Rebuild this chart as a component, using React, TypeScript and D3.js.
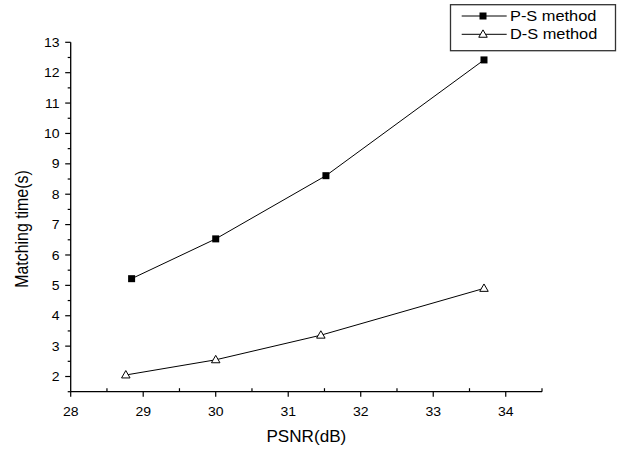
import React from "react";
import * as d3 from "d3";

const psnrPS = [28.84, 30, 31.52, 33.7];
const timePS = [5.22, 6.53, 8.61, 12.42];
const psnrDS = [28.76, 30, 31.45, 33.7];
const timeDS = [2.05, 2.55, 3.36, 4.9];
const xTicks = [28, 29, 30, 31, 32, 33, 34];
const yTicks = [2, 3, 4, 5, 6, 7, 8, 9, 10, 11, 12, 13];
const seriesNames = ["P-S method", "D-S method"];

const W = 621;
const H = 451;
const FONT = "'Liberation Sans', Arial, sans-serif";

export default function App() {
  const x = d3.scaleLinear().domain([28, 34.5]).range([70.7, 542]);
  const y = d3.scaleLinear().domain([1.5, 13]).range([391.7, 42.3]);
  const line = d3
    .line<[number, number]>()
    .x((d) => x(d[0]))
    .y((d) => y(d[1]));

  const ps: [number, number][] = psnrPS.map((v, i) => [v, timePS[i]]);
  const ds: [number, number][] = psnrDS.map((v, i) => [v, timeDS[i]]);

  const xMinor = d3.range(28.5, 34.51, 1);
  const yMinor = d3.range(1.5, 13, 1);

  const x0 = x(28);
  const y0 = y(1.5);
  const sq = 7;
  const tri = (cx: number, cy: number) => {
    const s = 8.5;
    const h = s * 0.87;
    return `M${cx},${cy - h * 0.6}L${cx + s / 2},${cy + h * 0.4}L${cx - s / 2},${cy + h * 0.4}Z`;
  };
  const sx = 1.08;

  return (
    <svg
      width={W}
      height={H}
      style={{ position: "absolute", left: 0, top: 0, background: "#fff" }}
      fontFamily={FONT}
    >
      <rect x={0} y={0} width={W} height={H} fill="#fff" />
      {/* axes */}
      <line x1={x0} x2={x0} y1={y(13)} y2={y0} stroke="#000" strokeWidth={1.3} />
      <line x1={x0} x2={x(34.5)} y1={y0} y2={y0} stroke="#000" strokeWidth={1.3} />
      {xTicks.map((t) => (
        <g key={"xt" + t}>
          <line x1={x(t)} x2={x(t)} y1={y0} y2={y0 + 5} stroke="#000" strokeWidth={1.2} />
          <text
            transform={`translate(${x(t)},415.5) scale(${sx},1)`}
            textAnchor="middle"
            fontSize={13}
            fill="#000"
          >
            {t}
          </text>
        </g>
      ))}
      {xMinor.map((t) => (
        <line key={"xm" + t} x1={x(t)} x2={x(t)} y1={y0} y2={y0 - 3.5} stroke="#000" strokeWidth={1.2} />
      ))}
      {yTicks.map((t) => (
        <g key={"yt" + t}>
          <line x1={x0 - 5.5} x2={x0} y1={y(t)} y2={y(t)} stroke="#000" strokeWidth={1.2} />
          <text
            transform={`translate(59.5,${y(t) + 4.6}) scale(${sx},1)`}
            textAnchor="end"
            fontSize={13}
            fill="#000"
          >
            {t}
          </text>
        </g>
      ))}
      {yMinor.map((t) => (
        <line key={"ym" + t} x1={x0 - 3} x2={x0} y1={y(t)} y2={y(t)} stroke="#000" strokeWidth={1.2} />
      ))}
      {/* axis titles */}
      <text
        transform={`translate(${(x0 + x(34.5)) / 2},441.5) scale(1.07,1)`}
        textAnchor="middle"
        fontSize={16}
        fill="#000"
      >
        PSNR(dB)
      </text>
      <text
        transform={`translate(28.3,229) scale(1.15,1) rotate(-90)`}
        textAnchor="middle"
        fontSize={15.9}
        fill="#000"
      >
        Matching time(s)
      </text>
      {/* series */}
      <path d={line(ps) || ""} fill="none" stroke="#000" strokeWidth={1} />
      <path d={line(ds) || ""} fill="none" stroke="#000" strokeWidth={1} />
      {ps.map((d, i) => (
        <rect key={"p" + i} x={x(d[0]) - sq / 2} y={y(d[1]) - sq / 2} width={sq} height={sq} fill="#000" />
      ))}
      {ds.map((d, i) => (
        <path key={"d" + i} d={tri(x(d[0]), y(d[1]))} fill="#fff" stroke="#000" strokeWidth={1} />
      ))}
      {/* legend */}
      <rect x={450.5} y={4.7} width={165} height={46} fill="#fff" stroke="#333" strokeWidth={1.3} />
      {seriesNames.map((name, i) => {
        const ly = i === 0 ? 16 : 34.3;
        return (
          <g key={name}>
            <line x1={461.7} x2={506.7} y1={ly} y2={ly} stroke="#000" strokeWidth={1} />
            {i === 0 ? (
              <rect x={483 - sq / 2} y={ly - sq / 2} width={sq} height={sq} fill="#000" />
            ) : (
              <path d={tri(483, ly)} fill="#fff" stroke="#000" strokeWidth={1} />
            )}
            <text
              transform={`translate(510,${ly + 5}) scale(1.17,1)`}
              fontSize={14}
              fill="#000"
            >
              {name}
            </text>
          </g>
        );
      })}
    </svg>
  );
}
